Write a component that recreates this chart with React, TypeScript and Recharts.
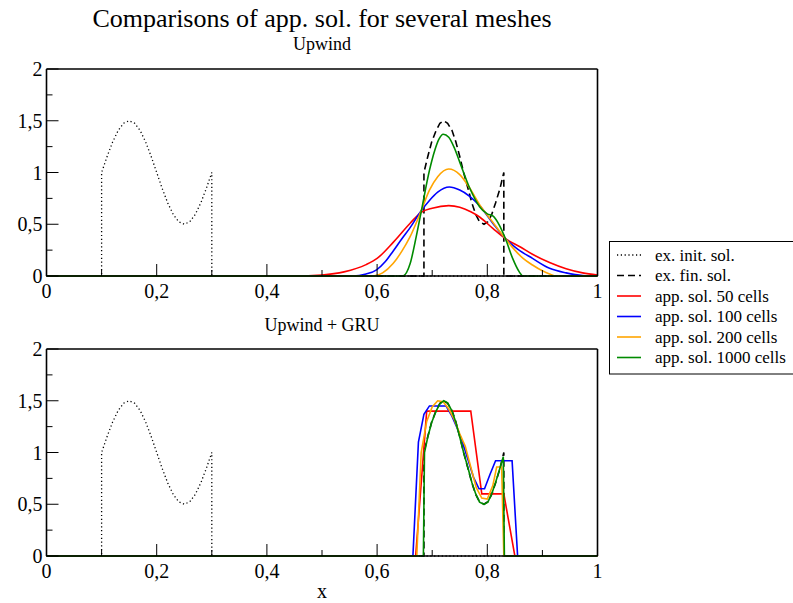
import { LineChart, Line, XAxis, YAxis } from "recharts";

const FONT = "'Liberation Serif', 'Times New Roman', serif";

const xTicks = [0, 0.1, 0.2, 0.3, 0.4, 0.5, 0.6, 0.7, 0.8, 0.9, 1];
const yTicks = [0, 0.25, 0.5, 0.75, 1, 1.25, 1.5, 1.75, 2];

// exact initial solution
const initX = [0, 0.1, 0.1, 0.11, 0.12, 0.13, 0.14, 0.15, 0.16, 0.17, 0.18, 0.19, 0.2, 0.21, 0.22, 0.23, 0.24, 0.25, 0.26, 0.27, 0.28, 0.29, 0.3, 0.3, 1];
const initY = [0, 0, 1, 1.155, 1.294, 1.405, 1.476, 1.5, 1.476, 1.405, 1.294, 1.155, 1, 0.845, 0.706, 0.595, 0.524, 0.5, 0.524, 0.595, 0.706, 0.845, 1, 0, 0];

// exact final solution
const finX = [0, 0.685, 0.685, 0.692, 0.699, 0.707, 0.714, 0.721, 0.728, 0.736, 0.743, 0.75, 0.757, 0.765, 0.772, 0.779, 0.786, 0.794, 0.801, 0.808, 0.815, 0.823, 0.83, 0.83, 1];
const finY = [0, 0, 1, 1.155, 1.294, 1.405, 1.476, 1.5, 1.476, 1.405, 1.294, 1.155, 1, 0.845, 0.706, 0.595, 0.524, 0.5, 0.524, 0.595, 0.706, 0.845, 1, 0, 0];

// upwind
const up50X = [0, 0.45, 0.5, 0.54, 0.58, 0.6, 0.63, 0.66, 0.68, 0.7, 0.73, 0.75, 0.77, 0.786, 0.81, 0.833, 0.86, 0.882, 0.913, 0.943, 0.973, 1];
const up50Y = [0, 0, 0.01, 0.04, 0.11, 0.17, 0.33, 0.51, 0.615, 0.655, 0.68, 0.665, 0.62, 0.57, 0.46, 0.36, 0.28, 0.21, 0.13, 0.07, 0.03, 0.01];
const up100X = [0, 0.556, 0.58, 0.599, 0.615, 0.629, 0.645, 0.659, 0.68, 0.695, 0.71, 0.731, 0.75, 0.768, 0.786, 0.81, 0.833, 0.855, 0.882, 0.913, 0.943, 0.973, 1];
const up100Y = [0, 0, 0.02, 0.06, 0.14, 0.24, 0.36, 0.46, 0.63, 0.73, 0.81, 0.86, 0.83, 0.77, 0.68, 0.51, 0.36, 0.26, 0.17, 0.074, 0.03, 0.005, 0];
const up200X = [0, 0.593, 0.61, 0.629, 0.645, 0.659, 0.68, 0.695, 0.71, 0.73, 0.75, 0.768, 0.786, 0.81, 0.833, 0.85, 0.865, 0.882, 0.9, 0.913, 0.925, 1];
const up200Y = [0, 0, 0.03, 0.12, 0.24, 0.37, 0.63, 0.83, 0.96, 1.034, 0.98, 0.85, 0.69, 0.52, 0.36, 0.25, 0.17, 0.106, 0.05, 0.02, 0, 0];
const up1000X = [0, 0.647, 0.66, 0.671, 0.68, 0.695, 0.705, 0.712, 0.72, 0.73, 0.74, 0.75, 0.768, 0.786, 0.8, 0.81, 0.822, 0.833, 0.846, 0.858, 0.865, 1];
const up1000Y = [0, 0, 0.12, 0.38, 0.62, 1.02, 1.22, 1.32, 1.37, 1.34, 1.24, 1.1, 0.85, 0.67, 0.6, 0.58, 0.49, 0.36, 0.17, 0.04, 0, 0];

// upwind + GRU
const gru50X = [0, 0.67, 0.69, 0.71, 0.73, 0.75, 0.77, 0.79, 0.81, 0.83, 0.85, 1];
const gru50Y = [0, 0, 1.4, 1.4, 1.4, 1.4, 1.4, 0.6, 0.6, 0.6, 0, 0];
const gru100X = [0, 0.665, 0.675, 0.685, 0.695, 0.705, 0.715, 0.725, 0.735, 0.745, 0.755, 0.765, 0.775, 0.785, 0.795, 0.805, 0.815, 0.825, 0.835, 0.845, 0.855, 1];
const gru100Y = [0, 0, 1.1, 1.37, 1.45, 1.45, 1.45, 1.45, 1.36, 1.24, 1.1, 0.93, 0.76, 0.65, 0.65, 0.79, 0.92, 0.92, 0.92, 0.92, 0, 0];
const gru200X = [0, 0.672, 0.68, 0.69, 0.7, 0.71, 0.72, 0.73, 0.74, 0.75, 0.76, 0.77, 0.78, 0.79, 0.8, 0.81, 0.817, 0.826, 0.83, 1];
const gru200Y = [0, 0, 1.0, 1.3, 1.44, 1.5, 1.49, 1.42, 1.32, 1.18, 1.06, 0.86, 0.66, 0.56, 0.55, 0.68, 0.86, 0.86, 0, 0];
const gru1000X = [0, 0.684, 0.686, 0.692, 0.699, 0.707, 0.714, 0.721, 0.728, 0.736, 0.743, 0.75, 0.757, 0.765, 0.772, 0.779, 0.786, 0.794, 0.801, 0.808, 0.815, 0.823, 0.829, 0.831, 1];
const gru1000Y = [0, 0, 1.0, 1.15, 1.29, 1.4, 1.47, 1.5, 1.48, 1.4, 1.29, 1.15, 1.0, 0.85, 0.71, 0.6, 0.52, 0.5, 0.52, 0.6, 0.71, 0.85, 0.96, 0, 0];

const zip = (xs: number[], ys: number[]) => xs.map((x, i) => ({ x, y: ys[i] }));

type Series = {
  name: string;
  data: { x: number; y: number }[];
  color: string;
  dash?: string;
  width: number;
  curve: "linear" | "monotone";
};

const RED = "#ff0000";
const BLUE = "#0000ff";
const ORANGE = "#ffa500";
const GREEN = "#008b00";

const initSeries: Series = { name: "ex. init. sol.", data: zip(initX, initY), color: "#000", dash: "1.2 2.6", width: 1.3, curve: "linear" };
const finSeries: Series = { name: "ex. fin. sol.", data: zip(finX, finY), color: "#000", dash: "7 4", width: 1.6, curve: "linear" };

const upwind: Series[] = [
  initSeries,
  finSeries,
  { name: "app. sol. 50 cells", data: zip(up50X, up50Y), color: RED, width: 1.6, curve: "monotone" },
  { name: "app. sol. 100 cells", data: zip(up100X, up100Y), color: BLUE, width: 1.6, curve: "monotone" },
  { name: "app. sol. 200 cells", data: zip(up200X, up200Y), color: ORANGE, width: 1.6, curve: "monotone" },
  { name: "app. sol. 1000 cells", data: zip(up1000X, up1000Y), color: GREEN, width: 1.6, curve: "monotone" },
];

const upwindGru: Series[] = [
  initSeries,
  finSeries,
  { name: "app. sol. 50 cells", data: zip(gru50X, gru50Y), color: RED, width: 1.6, curve: "linear" },
  { name: "app. sol. 100 cells", data: zip(gru100X, gru100Y), color: BLUE, width: 1.6, curve: "linear" },
  { name: "app. sol. 200 cells", data: zip(gru200X, gru200Y), color: ORANGE, width: 1.6, curve: "linear" },
  { name: "app. sol. 1000 cells", data: zip(gru1000X, gru1000Y), color: GREEN, width: 1.6, curve: "linear" },
];

const fmt = (v: number) => String(v).replace(".", ",");
const MAJOR = 12;
const MINOR = 6;
const frame = { stroke: "#000", strokeWidth: 1.6 };

// ticks point into the plot on every side, labels only on left/bottom
const BottomTick = (p: any) => {
  const major = Math.round(p.payload.value * 10) % 2 === 0;
  return (
    <g>
      <line x1={p.x} x2={p.x} y1={p.y} y2={p.y - (major ? MAJOR : MINOR)} stroke="#000" />
      {major && (
        <text x={p.x} y={p.y + 22} textAnchor="middle" fontFamily={FONT} fontSize={20} fill="#000">
          {fmt(p.payload.value)}
        </text>
      )}
    </g>
  );
};

const TopTick = (p: any) => {
  const major = Math.round(p.payload.value * 10) % 2 === 0;
  return <line x1={p.x} x2={p.x} y1={p.y} y2={p.y + (major ? MAJOR : MINOR)} stroke="#000" />;
};

const LeftTick = (p: any) => {
  const major = Math.round(p.payload.value * 4) % 2 === 0;
  return (
    <g>
      <line x1={p.x} x2={p.x + (major ? MAJOR : MINOR)} y1={p.y} y2={p.y} stroke="#000" />
      {major && (
        <text x={p.x - 4} y={p.y + 7} textAnchor="end" fontFamily={FONT} fontSize={20} fill="#000">
          {fmt(p.payload.value)}
        </text>
      )}
    </g>
  );
};

const RightTick = (p: any) => {
  const major = Math.round(p.payload.value * 4) % 2 === 0;
  return <line x1={p.x} x2={p.x - (major ? MAJOR : MINOR)} y1={p.y} y2={p.y} stroke="#000" />;
};

function Panel({ series, height, bottomAxis }: { series: Series[]; height: number; bottomAxis: number }) {
  return (
    <LineChart width={793} height={height} margin={{ top: 68, right: 194.5, bottom: 4, left: 0 }}>
      <XAxis
        xAxisId="b"
        dataKey="x"
        type="number"
        domain={[0, 1]}
        ticks={xTicks}
        interval={0}
        height={bottomAxis}
        tickSize={0}
        tickMargin={0}
        tickLine={false}
        axisLine={frame}
        tick={<BottomTick />}
      />
      <XAxis
        xAxisId="t"
        orientation="top"
        type="number"
        domain={[0, 1]}
        ticks={xTicks}
        interval={0}
        height={1}
        tickSize={0}
        tickMargin={0}
        tickLine={false}
        axisLine={frame}
        tick={<TopTick />}
      />
      <YAxis
        yAxisId="l"
        type="number"
        domain={[0, 2]}
        ticks={yTicks}
        interval={0}
        width={46.5}
        tickSize={0}
        tickMargin={0}
        tickLine={false}
        axisLine={frame}
        tick={<LeftTick />}
      />
      <YAxis
        yAxisId="r"
        orientation="right"
        type="number"
        domain={[0, 2]}
        ticks={yTicks}
        interval={0}
        width={1}
        tickSize={0}
        tickMargin={0}
        tickLine={false}
        axisLine={frame}
        tick={<RightTick />}
      />
      {series.map((s) => (
        <Line
          key={s.name}
          xAxisId="b"
          yAxisId="l"
          data={s.data}
          dataKey="y"
          name={s.name}
          type={s.curve}
          stroke={s.color}
          strokeWidth={s.width}
          strokeDasharray={s.dash}
          dot={false}
          activeDot={false}
          isAnimationActive={false}
        />
      ))}
    </LineChart>
  );
}

function Legend() {
  const rowY = [255, 275.5, 296, 316.5, 337, 357.5];
  return (
    <g>
      <rect x={609.5} y={241.5} width={200} height={132.5} fill="#fff" stroke="#000" strokeWidth={1} />
      {upwind.map((s, i) => (
        <g key={s.name}>
          <line
            x1={617}
            x2={641}
            y1={rowY[i]}
            y2={rowY[i]}
            stroke={s.color}
            strokeWidth={s.dash ? 1.3 : 1.6}
            strokeDasharray={s.dash}
          />
          <text x={655} y={rowY[i] + 5.5} fontFamily={FONT} fontSize={17} fill="#000">
            {s.name}
          </text>
        </g>
      ))}
    </g>
  );
}

export default function App() {
  return (
    <div style={{ position: "absolute", left: 0, top: 0, width: 793, height: 603, overflow: "hidden", background: "#fff" }}>
      <div style={{ position: "absolute", left: 0, top: 0 }}>
        <Panel series={upwind} height={310} bottomAxis={30} />
      </div>
      <div style={{ position: "absolute", left: 0, top: 280 }}>
        <Panel series={upwindGru} height={323} bottomAxis={43} />
      </div>
      <svg width={793} height={603} style={{ position: "absolute", left: 0, top: 0, pointerEvents: "none" }}>
        <text x={322} y={27} textAnchor="middle" fontFamily={FONT} fontSize={26} fill="#000">
          Comparisons of app. sol. for several meshes
        </text>
        <text x={322} y={50} textAnchor="middle" fontFamily={FONT} fontSize={18} fill="#000">
          Upwind
        </text>
        <text x={322} y={331} textAnchor="middle" fontFamily={FONT} fontSize={18} fill="#000">
          Upwind + GRU
        </text>
        <text x={322} y={598} textAnchor="middle" fontFamily={FONT} fontSize={20} fill="#000">
          x
        </text>
        <Legend />
      </svg>
    </div>
  );
}
